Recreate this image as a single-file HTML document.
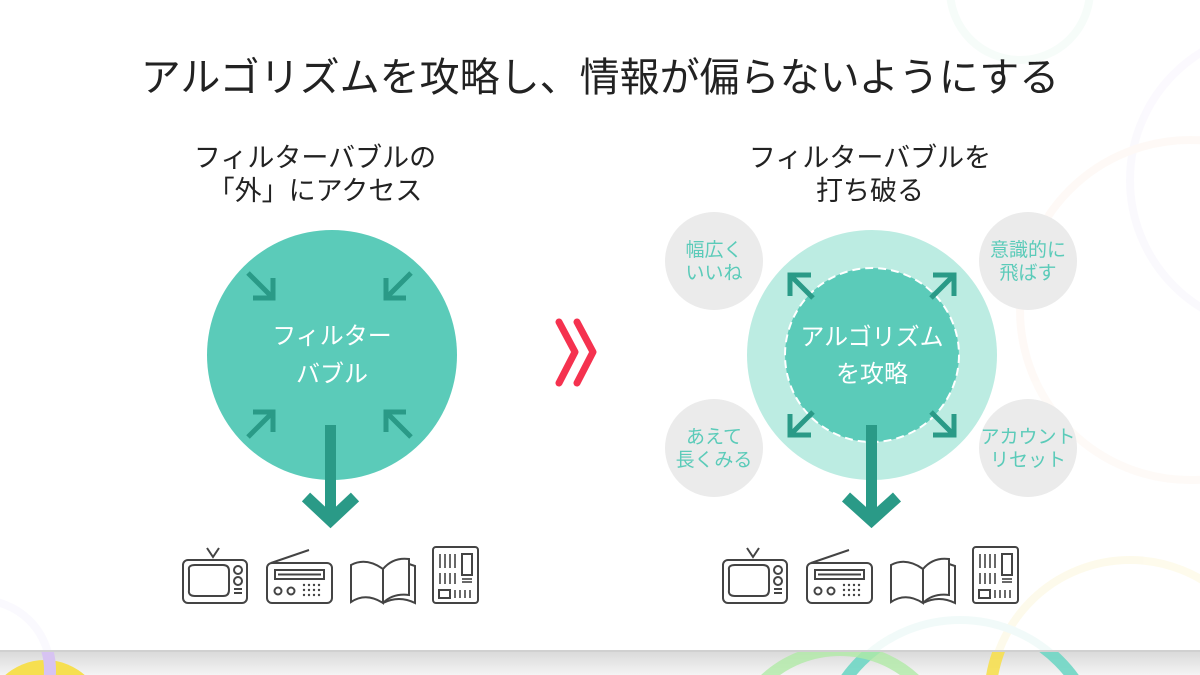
<!DOCTYPE html>
<html><head><meta charset="utf-8"><style>
html,body{margin:0;padding:0;background:#fff;width:1200px;height:675px;overflow:hidden;}
svg{display:block}
text{font-family:"Liberation Sans","Noto Sans CJK JP",sans-serif;}
</style></head><body>
<svg width="1200" height="675" viewBox="0 0 1200 675" xmlns="http://www.w3.org/2000/svg">
<defs>
<clipPath id="band"><rect x="0" y="652" width="1200" height="23"/></clipPath>
<clipPath id="main"><rect x="0" y="0" width="1200" height="650"/></clipPath>
<linearGradient id="sh" x1="0" y1="0" x2="0" y2="1"><stop offset="0" stop-color="#d8d8d8"/><stop offset="1" stop-color="#f4f4f4"/></linearGradient>
<g id="tv" fill="none" stroke="#444" stroke-width="2">
<rect x="0" y="12" width="64" height="43" rx="5"/>
<path d="M6 22 Q5 17 12 17 L40 17 Q46 17 46 23 L46 42 Q46 48 40 48 L12 48 Q5 48 6 42 Z"/>
<circle cx="55" cy="22" r="4"/><circle cx="55" cy="33" r="4"/>
<line x1="51" y1="41" x2="59" y2="41"/><line x1="51" y1="45" x2="59" y2="45"/>
<path d="M24 0 L30 9 L36 0"/>
</g>
<g id="radio" fill="none" stroke="#444" stroke-width="2">
<rect x="0" y="15" width="65" height="40" rx="5"/>
<line x1="4" y1="15" x2="42" y2="2"/>
<rect x="8" y="22" width="49" height="9"/>
<line x1="11" y1="26.5" x2="54" y2="26.5"/>
<circle cx="11" cy="43" r="3.5"/><circle cx="24" cy="43" r="3.5"/>
<g stroke="none" fill="#444">
<circle cx="37" cy="37" r="1.2"/><circle cx="42" cy="37" r="1.2"/><circle cx="47" cy="37" r="1.2"/><circle cx="52" cy="37" r="1.2"/>
<circle cx="37" cy="42" r="1.2"/><circle cx="42" cy="42" r="1.2"/><circle cx="47" cy="42" r="1.2"/><circle cx="52" cy="42" r="1.2"/>
<circle cx="37" cy="47" r="1.2"/><circle cx="42" cy="47" r="1.2"/><circle cx="47" cy="47" r="1.2"/><circle cx="52" cy="47" r="1.2"/>
</g>
</g>
<g id="book" fill="none" stroke="#444" stroke-width="2">
<path d="M0 18 Q15 10 32 22 L32 56 Q15 45 0 55 Z"/>
<path d="M32 22 Q42 10 58 12 L58 48 Q42 46 32 56"/>
<path d="M58 17 L64 19 L64 56 Q48 48 32 56"/>
</g>
<g id="news" fill="none" stroke="#444" stroke-width="2">
<rect x="0" y="0" width="45" height="56" rx="3"/>
<g stroke-width="1.6">
<line x1="7" y1="7" x2="7" y2="21"/><line x1="12" y1="7" x2="12" y2="21"/><line x1="17" y1="7" x2="17" y2="21"/><line x1="22" y1="7" x2="22" y2="21"/>
<line x1="7" y1="26" x2="7" y2="37"/><line x1="12" y1="26" x2="12" y2="37"/><line x1="17" y1="26" x2="17" y2="37"/><line x1="22" y1="26" x2="22" y2="37"/>
<line x1="22" y1="43" x2="22" y2="51"/><line x1="27" y1="43" x2="27" y2="51"/><line x1="32" y1="43" x2="32" y2="51"/><line x1="37" y1="43" x2="37" y2="51"/>
<line x1="29" y1="32" x2="39" y2="32"/><line x1="29" y1="35" x2="39" y2="35"/>
</g>
<rect x="29" y="7" width="10" height="21"/>
<rect x="6" y="43" width="11" height="8"/>
</g>
</defs>

<!-- decorative faint circles -->
<g fill="none" stroke-width="8" opacity="0.35" clip-path="url(#main)">
<circle cx="1020" cy="-10" r="70" stroke="#e6f7ee"/>
<circle cx="1280" cy="180" r="150" stroke="#f3effb"/>
<circle cx="1190" cy="310" r="170" stroke="#fdf0e8"/>
<circle cx="1130" cy="700" r="140" stroke="#fbf3c8"/>
<circle cx="960" cy="760" r="140" stroke="#d9f3ee"/>
<circle cx="-20" cy="670" r="70" stroke="#f2edfb"/>
</g>

<!-- bottom band -->
<rect x="0" y="650" width="1200" height="25" fill="url(#sh)"/>
<rect x="0" y="650" width="1200" height="2" fill="#d0d0d0"/>
<g clip-path="url(#band)">
<circle cx="45" cy="720" r="60" fill="#f6df50"/>
<g fill="none" stroke-width="12">
<circle cx="1130" cy="700" r="140" stroke="#f6df50" opacity="0.9"/>
<circle cx="960" cy="760" r="140" stroke="#6fd6c4" opacity="0.9"/>
<circle cx="840" cy="760" r="110" stroke="#b0eaa6" opacity="0.8"/>
<circle cx="-20" cy="670" r="70" stroke="#d7c3f2"/>
</g>
</g>

<!-- titles -->
<text x="600" y="91" font-size="40" text-anchor="middle" fill="#222">アルゴリズムを攻略し、情報が偏らないようにする</text>
<text x="315" y="167" font-size="27" text-anchor="middle" fill="#222">フィルターバブルの</text>
<text x="315" y="200" font-size="27" text-anchor="middle" fill="#222">「外」にアクセス</text>
<text x="870" y="167" font-size="27" text-anchor="middle" fill="#222">フィルターバブルを</text>
<text x="870" y="200" font-size="27" text-anchor="middle" fill="#222">打ち破る</text>

<!-- left circle -->
<circle cx="332" cy="355" r="125" fill="#5bcbb9"/>
<g stroke="#2a9a87" stroke-width="5" fill="none">
<path d="M248 273 L273 298 M253 298 L273 298 L273 278"/>
<path d="M411 273 L386 298 M406 298 L386 298 L386 278"/>
<path d="M248 437 L273 412 M253 412 L273 412 L273 432"/>
<path d="M411 437 L386 412 M406 412 L386 412 L386 432"/>
</g>
<text x="332" y="344" font-size="24" text-anchor="middle" fill="#fff">フィルター</text>
<text x="332" y="382" font-size="24" text-anchor="middle" fill="#fff">バブル</text>
<rect x="325" y="425" width="11" height="88" fill="#2a9a87"/>
<path d="M306 497 L330.5 520 L355 497" fill="none" stroke="#2a9a87" stroke-width="12"/>

<!-- chevron -->
<g fill="none" stroke="#f5324f" stroke-width="7" stroke-linecap="round" stroke-linejoin="round">
<path d="M559 322 L575 352 L559 383"/><path d="M577 322 L593 352 L577 383"/>
</g>

<!-- right -->
<circle cx="872" cy="355" r="125" fill="#bcece2"/>
<circle cx="872" cy="355" r="87" fill="#5bcbb9" stroke="#fff" stroke-width="2" stroke-dasharray="8 5"/>
<g stroke="#2a9a87" stroke-width="5" fill="none">
<path d="M813 298 L790 275 M790 296 L790 275 L811 275"/>
<path d="M931 298 L954 275 M954 296 L954 275 L933 275"/>
<path d="M813 412 L790 435 M790 414 L790 435 L811 435"/>
<path d="M931 412 L954 435 M954 414 L954 435 L933 435"/>
</g>
<text x="872" y="345" font-size="24" text-anchor="middle" fill="#fff">アルゴリズム</text>
<text x="872" y="382" font-size="24" text-anchor="middle" fill="#fff">を攻略</text>
<rect x="866" y="425" width="11" height="88" fill="#2a9a87"/>
<path d="M846 497 L871.5 520 L897 497" fill="none" stroke="#2a9a87" stroke-width="12"/>

<g fill="#ebebeb">
<circle cx="714" cy="261" r="49"/><circle cx="1028" cy="261" r="49"/>
<circle cx="714" cy="448" r="49"/><circle cx="1028" cy="448" r="49"/>
</g>
<g font-size="19" text-anchor="middle" fill="#5bcbb9">
<text x="714" y="256">幅広く</text><text x="714" y="279">いいね</text>
<text x="1028" y="256">意識的に</text><text x="1028" y="279">飛ばす</text>
<text x="714" y="443">あえて</text><text x="714" y="466">長くみる</text>
<text x="1028" y="443">アカウント</text><text x="1028" y="466">リセット</text>
</g>

<!-- icons -->
<use href="#tv" x="183" y="548"/>
<use href="#radio" x="267" y="548"/>
<use href="#book" x="351" y="547"/>
<use href="#news" x="433" y="547"/>
<use href="#tv" x="723" y="548"/>
<use href="#radio" x="807" y="548"/>
<use href="#book" x="891" y="547"/>
<use href="#news" x="973" y="547"/>
</svg>
</body></html>
